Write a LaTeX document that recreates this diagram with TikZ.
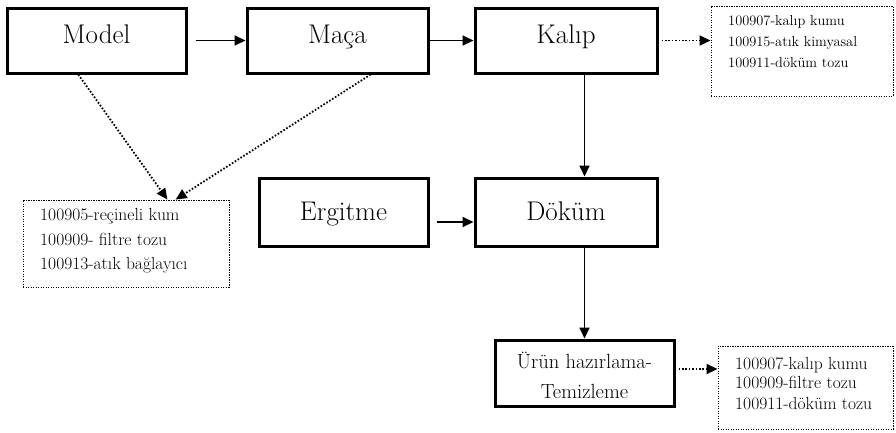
\documentclass[tikz,border=0pt]{standalone}
\usetikzlibrary{arrows.meta,calc}
\begin{document}
\begin{tikzpicture}[x=1pt,y=-1pt,
  box/.style={draw,line width=3pt,minimum width=#1,minimum height=65pt,inner sep=0pt},
  lbl/.style={font=\fontsize{27}{30}\selectfont,inner sep=0pt,anchor=base},
  wbox/.style={draw,line width=0.9pt,dash pattern=on 1.1pt off 1.4pt,inner sep=0pt},
  sm/.style={anchor=base west,inner sep=0pt,font=\fontsize{#1}{#1}\selectfont},
  arr/.style={line width=1.8pt,-{Triangle[length=11pt,width=10pt]}},
  darr/.style={line width=1.8pt,dash pattern=on 1.6pt off 1.8pt,-{Triangle[length=11pt,width=10pt]}}]
\useasboundingbox (0,0) rectangle (896,432);
% main boxes
\node[box=179pt] (model) at (96.5,40.5) {};
\node[lbl] (modelT) at (96.5,43) {Model};
\node[box=181pt] (maca) at (337.5,40.5) {};
\node[lbl] (macaT) at (337.5,43) {Maça};
\node[box=182pt] (kalip) at (566,40.5) {};
\node[lbl] (kalipT) at (566,43) {Kalıp};
\node[box=169pt,minimum height=68pt] (ergitme) at (343.5,212) {};
\node[lbl] (ergitmeT) at (343.5,220) {Ergitme};
\node[box=182pt,minimum height=68pt] (dokum) at (566,212) {};
\node[lbl] (dokumT) at (566,220) {Döküm};
\node[box=179pt,minimum height=66pt] (urun) at (584.5,373) {};
\node[font=\fontsize{20.5}{30}\selectfont,align=center,inner sep=0pt] (urunT) at (584.5,375) {Ürün hazırlama-\\Temizleme};
% waste boxes
\node[wbox,minimum width=182pt,minimum height=90pt] (tr) at (802,51) {};
\node[sm=14.4] (tr1) at (728,25) {100907-kalıp kumu};
\node[sm=14.4] (tr2) at (728,46) {100915-atık kimyasal};
\node[sm=14.4] (tr3) at (728,67) {100911-döküm tozu};
\node[wbox,minimum width=206pt,minimum height=87pt] (lb) at (126,243.5) {};
\node[sm=17.5] (lb1) at (40,220) {100905-reçineli kum};
\node[sm=17.5] (lb2) at (40,245) {100909- filtre tozu};
\node[sm=17.5] (lb3) at (40,269) {100913-atık bağlayıcı};
\node[wbox,minimum width=175pt,minimum height=83pt] (br) at (805.5,387.5) {};
\node[sm=17.5] (br1) at (735,369) {100907-kalıp kumu};
\node[sm=17.5] (br2) at (735,388) {100909-filtre tozu};
\node[sm=17.5] (br3) at (735,409) {100911-döküm tozu};
% connectors
\draw[arr,shorten <=8pt] (model.east) -- (maca.west);
\draw[arr] (maca.east) -- (kalip.west);
\draw[darr,shorten <=3pt] (kalip.east) -- (kalip.east -| tr.west);
\draw[arr] (urun.north |- kalip.south) -- (urun.north |- dokum.north);
\draw[arr,shorten <=7pt] ([yshift=-10pt]ergitme.east) -- ([yshift=-10pt]dokum.west);
\draw[arr] (urun.north |- dokum.south) -- (urun.north);
\draw[darr,shorten <=3pt] ([yshift=4pt]urun.east) -- ([yshift=4pt]urun.east -| br.west);
\draw[darr] ($(model.south west)!0.4!(model.south east)$) -- ($(lb.north west)!0.70!(lb.north east)$);
\draw[darr] ($(maca.south west)!0.68!(maca.south east)$) -- ($(lb.north west)!0.74!(lb.north east)$);
\end{tikzpicture}
\end{document}
